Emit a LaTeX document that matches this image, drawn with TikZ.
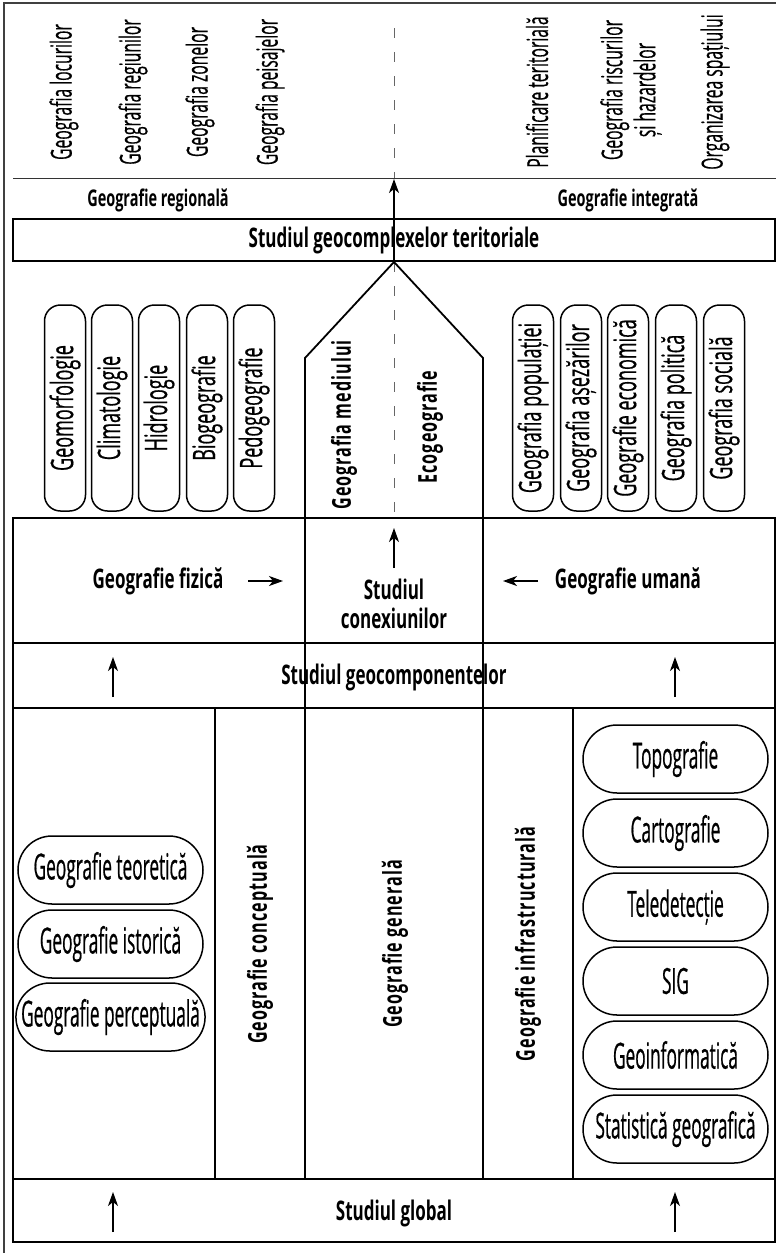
\documentclass[tikz,border=0pt]{standalone}
\usepackage{fontspec}
\usetikzlibrary{arrows.meta,shapes.misc}
\newfontfamily\lab[FakeStretch=0.54,FakeBold=0.4]{Open Sans}
\newfontfamily\pv[FakeStretch=0.58,FakeBold=0.5]{Open Sans}
\newfontfamily\pil[FakeStretch=0.48,FakeBold=0.5]{Open Sans}
\newfontfamily\bol[FakeStretch=0.63]{Open Sans}
\newfontfamily\bolr[FakeStretch=0.62,LetterSpace=4]{Open Sans}
\tikzset{
  frame/.style={draw=black!75, line width=1.2pt},
  grid/.style={draw=black, line width=1.8pt},
  thinline/.style={draw=black!80, line width=0.9pt},
  dashline/.style={draw=black!60, line width=1pt, dash pattern=on 10pt off 14pt},
  arr/.style={draw=black, line width=1.5pt, -{Stealth[length=14pt,width=10pt,inset=4pt]}},
  toplab/.style={rotate=90, inner sep=0pt, align=center, font=\lab\fontsize{29}{33}\selectfont},
  boldlab/.style={inner sep=0pt, align=center, font=\bol\bfseries\fontsize{27}{29}\selectfont},
  boldrot/.style={inner sep=0pt, rotate=90, font=\bolr\bfseries\fontsize{26}{29}\selectfont},
  pillv/.style={draw=black, line width=1.5pt, rectangle, rounded corners=16pt, rotate=90,
    minimum width=206pt, minimum height=41pt, inner sep=0pt, font=\pv\fontsize{31}{34}\selectfont},
  pillh/.style={draw=black, line width=1.5pt, rounded rectangle, minimum width=185pt,
    minimum height=68pt, inner sep=0pt, font=\pil\fontsize{36}{40}\selectfont}
}
\begin{document}
\begin{tikzpicture}[x=1pt,y=-1pt]
\useasboundingbox (0,0) rectangle (776,1253);
% outer frame
\draw[frame] (776,3) -- (4,3) -- (4,1253);
% top region
\draw[thinline] (13,178) -- (776,178);
\node[toplab] (loc) at (64,92) {Geografia locurilor};
\node[toplab] (reg) at (133,92) {Geografia regiunilor};
\node[toplab] (zon) at (200,92) {Geografia zonelor};
\node[toplab] (pei) at (270,92) {Geografia peisajelor};
\node[toplab] (pla) at (537,92) {Planificare teritorială};
\node[toplab] (ris) at (631,90) {Geografia riscurilor\\și hazardelor};
\node[toplab] (org) at (715,92) {Organizarea spațiului};
\node[boldlab, font=\bol\bfseries\fontsize{23}{25}\selectfont] (greg) at (158,200) {Geografie regională};
\node[boldlab, font=\bol\bfseries\fontsize{23}{25}\selectfont] (gint) at (628,200) {Geografie integrată};
% geocomplex box
\node[grid, minimum width=762pt, minimum height=42pt, inner sep=0pt] (gcbox) at (394,240) {};
\node[boldlab] (gc) at (394,240) {Studiul geocomplexelor teritoriale};
% central axis
\coordinate (dtop) at (394,28);
\coordinate (d178) at (394,178);
\coordinate (apex) at (394,262);
\coordinate (dbot) at (394,520);
\draw[dashline] (dtop) -- (d178);
\draw[dashline] (apex) -- (dbot);
\coordinate (a1s) at (394,261);
\coordinate (a1e) at (394,179);
\draw[arr] (a1s) -- (a1e);
% pentagon and central columns
\draw[grid, line join=miter] (305,1179) -- (305,358) -- (apex) -- (483,358) -- (483,1179);
\node[boldrot] (med) at (344,425) {Geografia mediului};
\node[boldrot] (eco) at (430,427) {Ecogeografie};
% physical pills
\node[pillv] (p1) at (65,408) {Geomorfologie};
\node[pillv] (p2) at (112,408) {Climatologie};
\node[pillv] (p3) at (159,408) {Hidrologie};
\node[pillv] (p4) at (207,408) {Biogeografie};
\node[pillv] (p5) at (254,408) {Pedogeografie};
% human pills
\node[pillv] (h1) at (533,408) {Geografia populației};
\node[pillv] (h2) at (581,408) {Geografia așezărilor};
\node[pillv] (h3) at (628,408) {Geografie economică};
\node[pillv] (h4) at (676,408) {Geografia politică};
\node[pillv] (h5) at (724,408) {Geografia socială};
% middle band
\draw[grid] (13,518) rectangle (775,708);
\draw[grid] (13,643) -- (775,643);
\node[boldlab] (fiz) at (158,581) {Geografie fizică};
\node[boldlab] (uma) at (628,581) {Geografie umană};
\node[boldlab] (con) at (394,604) {Studiul\\conexiunilor};
\node[boldlab] (gcomp) at (394,677) {Studiul geocomponentelor};
\coordinate (fa) at (248,581); \coordinate (fb) at (283,581);
\coordinate (ua) at (538,581); \coordinate (ub) at (503,581);
\draw[arr] (fa) -- (fb);
\draw[arr] (ua) -- (ub);
\coordinate (ca) at (394,568); \coordinate (cb) at (394,528);
\draw[arr] (ca) -- (cb);
\coordinate (la) at (113,697); \coordinate (lb) at (113,657);
\coordinate (ra) at (675,697); \coordinate (rb) at (675,657);
\draw[arr] (la) -- (lb);
\draw[arr] (ra) -- (rb);
% lower region
\draw[grid] (13,708) rectangle (775,1179);
\draw[grid] (215,708) -- (215,1179);
\draw[grid] (573,708) -- (573,1179);
\node[pillh] (t1) at (110.5,870) {Geografie teoretică};
\node[pillh] (t2) at (110.5,944) {Geografie istorică};
\node[pillh] (t3) at (110.5,1017) {Geografie perceptuală};
\node[boldrot] (conc) at (260,944) {Geografie conceptuală};
\node[boldrot] (gen) at (395,944) {Geografie generală};
\node[boldrot] (inf) at (528,944) {Geografie infrastructurală};
\node[pillh] (r1) at (675.5,759) {Topografie};
\node[pillh] (r2) at (675.5,833) {Cartografie};
\node[pillh] (r3) at (675.5,907) {Teledetecție};
\node[pillh] (r4) at (675.5,981) {SIG};
\node[pillh] (r5) at (675.5,1055) {Geoinformatică};
\node[pillh] (r6) at (675.5,1129) {Statistică geografică};
% global box
\draw[grid] (13,1179) rectangle (775,1242);
\node[boldlab] (glob) at (394,1213) {Studiul global};
\coordinate (ga) at (113,1232); \coordinate (gb) at (113,1192);
\coordinate (gc2) at (675,1232); \coordinate (gd) at (675,1192);
\draw[arr] (ga) -- (gb);
\draw[arr] (gc2) -- (gd);
\end{tikzpicture}
\end{document}
